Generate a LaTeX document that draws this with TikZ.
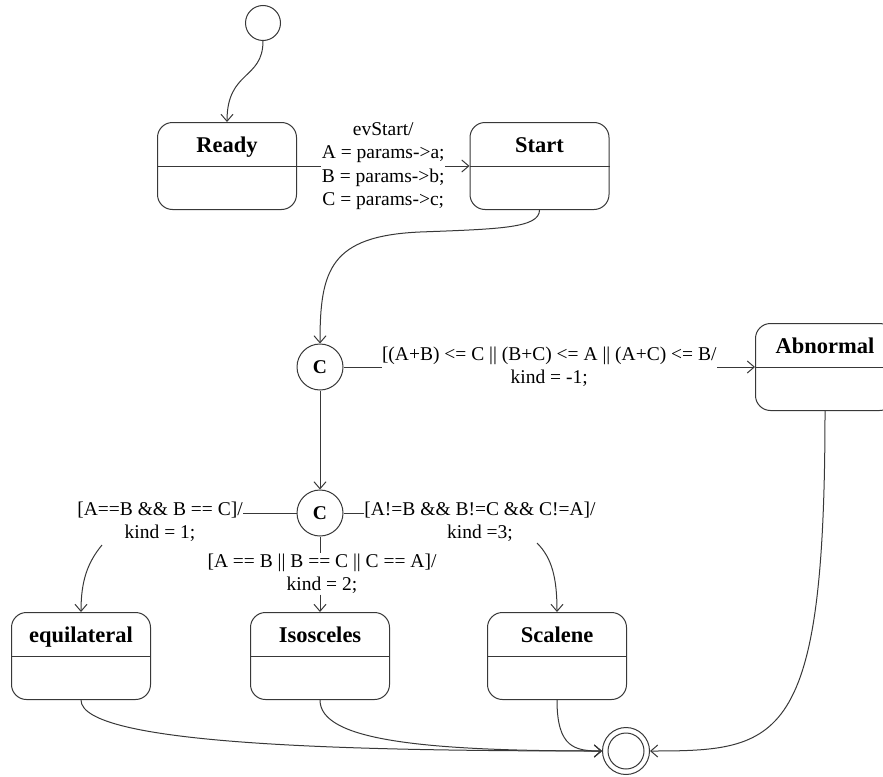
\documentclass[tikz,border=0pt]{standalone}
\usepackage{fontspec}
\setmainfont{Liberation Serif}
\usetikzlibrary{arrows.meta,calc}

% one UML state: rounded box, title compartment on top, empty body below
\newcommand\umlstate[4]{%
  \node[statebox] (#1) at (#2,#3) {};
  \draw[line] (#1.west) -- (#1.east);
  \node[statetitle, anchor=base] (#1-title) at ($(#1.center)+(0,-14)$) {#4};
}

\begin{document}
\begin{tikzpicture}[x=1pt, y=-1pt,
  line/.style={draw=black!78, line width=1pt},
  arr/.style={line, -{Straight Barb[length=7pt, width=12pt]}},
  statebox/.style={line, rounded corners=15pt, minimum width=139pt,
    minimum height=87pt, inner sep=0pt, fill=white},
  statetitle/.style={font=\fontsize{22.5}{26}\selectfont\bfseries, inner sep=0pt},
  pseudo/.style={line, circle, minimum size=46pt, inner sep=0pt, fill=white,
    font=\fontsize{19.5}{22}\selectfont\bfseries},
  lbl/.style={font=\fontsize{19.5}{23.4}\selectfont, align=center,
    inner sep=0.5pt, fill=white},
]
\useasboundingbox (0,0) rectangle (883,776);

% initial and final pseudo-states
\node[line, circle, minimum size=35pt, inner sep=0pt, fill=white] (init) at (263,23) {};
\node[line, circle, minimum size=47pt, inner sep=0pt, fill=white] (fin) at (626,751) {};
\draw[line] (fin.center) circle[radius=18pt];

% states
\umlstate{ready}{227}{166}{Ready}
\umlstate{start}{539.5}{166}{Start}
\umlstate{abn}{825}{367}{Abnormal}
\umlstate{eq}{81}{656}{equilateral}
\umlstate{iso}{320}{656}{Isosceles}
\umlstate{sca}{557}{656}{Scalene}

% choice points
\node[pseudo] (c1) at (320,367) {C};
\node[pseudo] (c2) at (320,513) {C};

% transitions
\draw[arr] (init.south) .. controls (263,80) and (227,70) .. (ready.north);
\draw[arr] (ready.east) -- (start.west)
  node[midway, lbl] {evStart/\\A = params->a;\\B = params->b;\\C = params->c;};
\coordinate (bend) at (420,232);
\draw[arr] (start.south) .. controls (539.5,228) and (500,229) .. (bend)
  .. controls (330,236) and (320,270) .. (c1.north);
\draw[arr] (c1.east) -- (abn.west)
  node[midway, lbl] {[(A+B) <= C || (B+C) <= A || (A+C) <= B/\\kind = -1;};
\draw[arr] (c1.south) -- (c2.north);

% guarded branches out of the second choice point
\node[lbl] (gl) at (160,521.5) {[A==B \&\& B == C]/\\kind = 1;};
\node[lbl] (gb) at (322,574) {[A == B || B == C || C == A]/\\kind = 2;};
\node[lbl] (gr) at (480,521.5) {[A!=B \&\& B!=C \&\& C!=A]/\\kind =3;};
\coordinate (gl-out) at (102,545);
\coordinate (gr-out) at (537,543);

\draw[line] (c2.west) -- (c2.west -| gl.east);
\draw[arr] (gl-out) .. controls (88,562) and (81,580) .. (eq.north);
\draw[line] (c2.south) -- (c2.south |- gb.north);
\draw[arr] (c2.south |- gb.south) -- (iso.north);
\draw[line] (c2.east) -- (c2.east -| gr.west);
\draw[arr] (gr-out) .. controls (552,558) and (557,578) .. (sca.north);

% into the final state
\draw[arr] (eq.south) .. controls (81,745) and (350,751) .. (fin.west);
\draw[arr] (iso.south) .. controls (320,740) and (420,751) .. (fin.west);
\draw[arr] (sca.south) .. controls (557,748) and (575,751) .. (fin.west);
\draw[arr] (abn.south) .. controls (825,745) and (780,751) .. (fin.east);
\end{tikzpicture}
\end{document}
